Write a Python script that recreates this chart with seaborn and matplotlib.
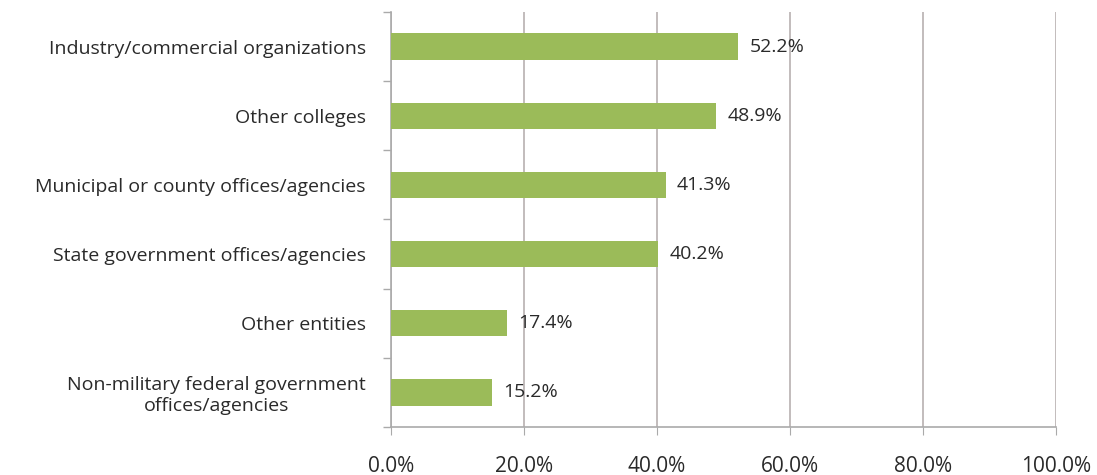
import matplotlib
matplotlib.use("Agg")
import matplotlib.pyplot as plt
import seaborn as sns
import pandas as pd
import numpy as np

categories = [
    "Industry/commercial organizations",
    "Other colleges",
    "Municipal or county offices/agencies",
    "State government offices/agencies",
    "Other entities",
    "Non-military federal government\noffices/agencies",
]
values = [52.2, 48.9, 41.3, 40.2, 17.4, 15.2]
xticks = [0, 20, 40, 60, 80, 100]

sns.set_style("white")
plt.rcParams['font.family'] = ['Open Sans', 'DejaVu Sans']

df = pd.DataFrame({"cat": categories, "val": values})

fig = plt.figure(figsize=(10.97, 4.75), dpi=100)
ax = fig.add_axes([0.3564, 0.1011, 0.6062, 0.8737])

sns.barplot(data=df, y="cat", x="val", orient="h", color="#9BBB59",
            saturation=1, width=0.38, ax=ax, zorder=3, linewidth=0)

ax.set_xlim(0, 100)
ax.set_ylim(5.5, -0.5)
ax.set_xticks(xticks)
ax.set_xticklabels([f"{t:.1f}%" for t in xticks], fontsize=15, color="#2a2a2a")
ax.xaxis.grid(True, color="#b8b0b0", linewidth=1.2, zorder=0)
ax.yaxis.grid(False)
ax.set_xlabel("")
ax.set_ylabel("")
ax.tick_params(axis="y", which="major", length=0, labelsize=14, labelcolor="#2a2a2a", pad=18)
for lbl in ax.get_yticklabels():
    lbl.set_multialignment("center")
ax.tick_params(axis="x", which="major", bottom=True, length=6, color="#aaaaaa", pad=15)

ax.set_yticks(np.arange(-0.5, 6.0, 1.0), minor=True)
ax.tick_params(axis="y", which="minor", left=True, length=6, color="#aaaaaa", direction="out", width=1)

for s in ["top", "right"]:
    ax.spines[s].set_visible(False)
for s in ["left", "bottom"]:
    ax.spines[s].set_color("#aaaaaa")
    ax.spines[s].set_linewidth(1.2)

for i, v in enumerate(values):
    ax.text(v + 1.7, i, f"{v:.1f}%", va="center", ha="left", fontsize=14, color="#2a2a2a")

fig.savefig("out.png", dpi=100)
